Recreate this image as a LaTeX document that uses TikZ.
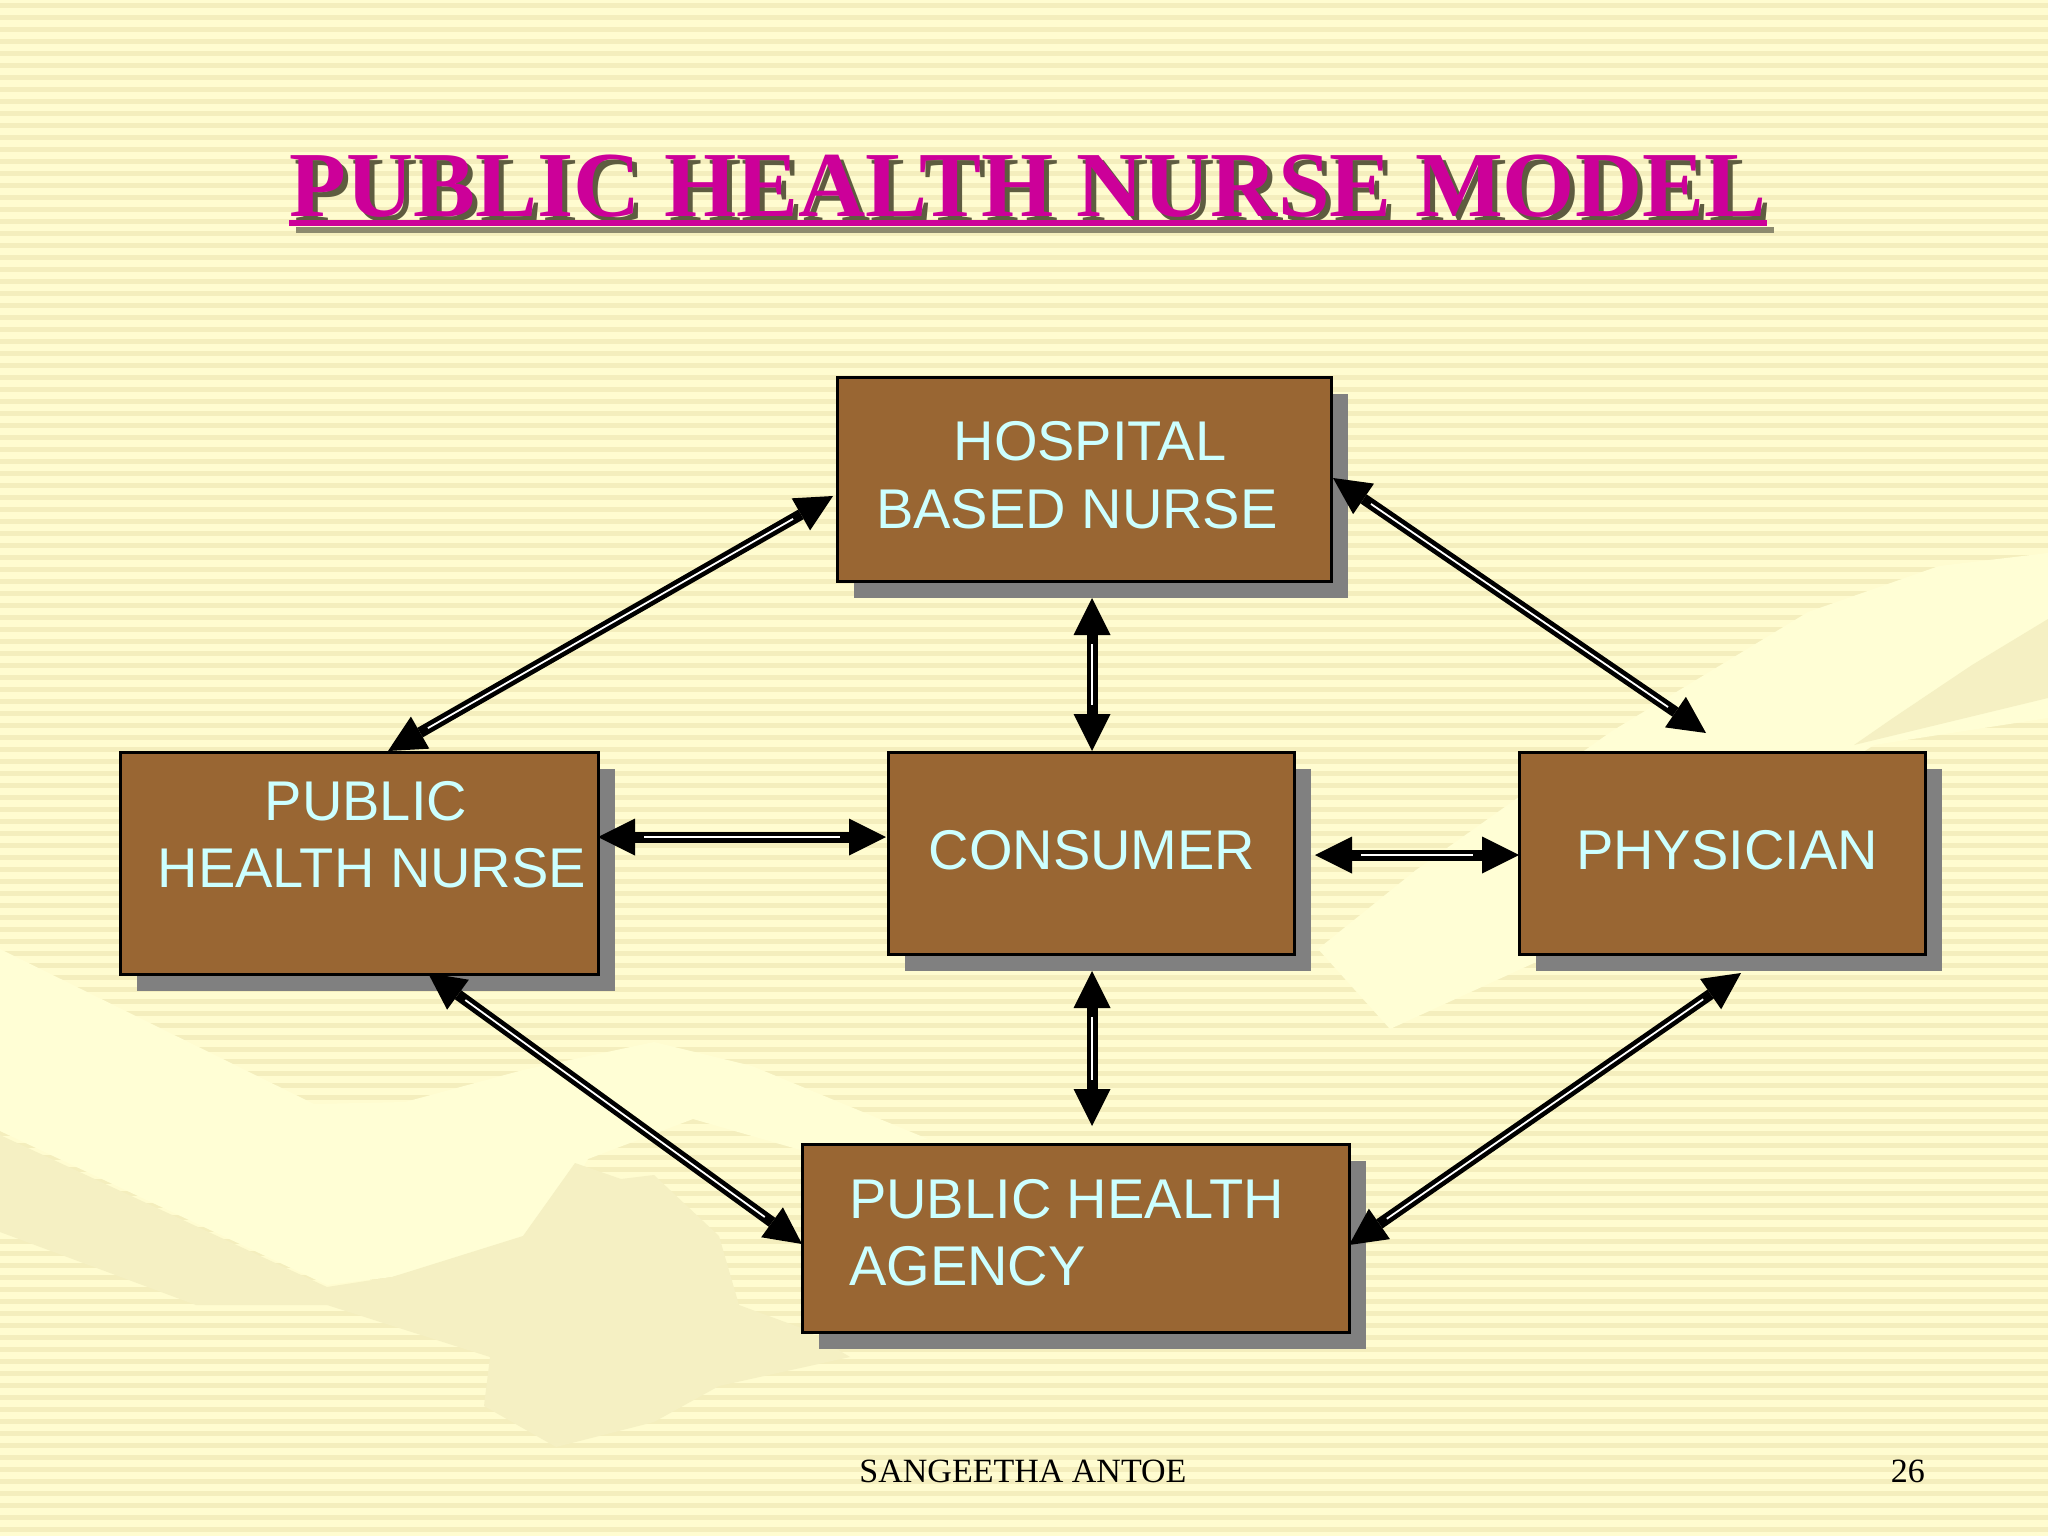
\documentclass[tikz,border=0pt]{standalone}
\usepackage{fontspec}
\setmainfont{Liberation Serif}
\newfontfamily\boxfont{Liberation Sans}
\usetikzlibrary{arrows.meta,shadows,calc}
\definecolor{bgcol}{HTML}{FFFCD0}
\definecolor{stripecol}{HTML}{F4EEBD}
\definecolor{handlight}{HTML}{FFFED5}
\definecolor{handdark}{HTML}{F5F0C3}
\definecolor{boxbrown}{HTML}{996633}
\definecolor{boxtext}{HTML}{CCFFFF}
\definecolor{shadowgray}{HTML}{808080}
\definecolor{titlemag}{HTML}{CC0099}
\definecolor{titleshadow}{HTML}{5E5C40}
\definecolor{ulshadow}{HTML}{8C8A6E}
\tikzset{
  boxnode/.style={draw=black, line width=2.5pt, fill=boxbrown, inner sep=0pt, anchor=north west,
    drop shadow={shadow xshift=17pt, shadow yshift=-17pt, fill=shadowgray, opacity=1}},
  boxlabel/.style={text=boxtext, inner sep=0pt, font=\boxfont\fontsize{56}{67}\selectfont},
  biarrow/.style={line width=11pt, draw=black,
    {Triangle[length=37pt,width=37pt,line width=0pt]}-{Triangle[length=37pt,width=37pt,line width=0pt]}},
  glint/.style={line width=1.8pt, draw=white, shorten <=46pt, shorten >=46pt},
  titlefont/.style={inner sep=0pt, font=\bfseries\fontsize{93}{110}\selectfont},
}
\begin{document}
\begin{tikzpicture}[x=1pt,y=-1pt]
\useasboundingbox (0,0) rectangle (2048,1536);
% background
\fill[bgcol] (0,0) rectangle (2048,1536);
\foreach \i in {0,...,127} \fill[stripecol] (0,{\i*12+3}) rectangle (2048,{\i*12+8});
% faint handshake watermark
\fill[handlight] (0,949) -- (314,1104) -- (405,1102) -- (523,1070) -- (654,1042) -- (752,1066)
  -- (928,1139) -- (804,1151) -- (693,1119) -- (588,1159) -- (542,1236) -- (392,1277)
  -- (327,1285) -- (0,1131) -- cycle;
\fill[handdark] (0,1135) -- (327,1287) -- (392,1277) -- (523,1236) -- (575,1163) -- (621,1179)
  -- (654,1175) -- (719,1236) -- (739,1305) -- (804,1329) -- (850,1357) -- (719,1386)
  -- (654,1422) -- (556,1447) -- (484,1406) -- (490,1357) -- (327,1305) -- (196,1305)
  -- (0,1232) -- cycle;
\fill[handlight] (2048,553) -- (2048,718) -- (1874,745) -- (1678,870) -- (1534,963)
  -- (1390,1029) -- (1318,949) -- (1416,870) -- (1612,731) -- (1808,612) -- (1939,566) -- cycle;
\fill[handdark] (2048,619) -- (2048,698) -- (1854,745) -- (1893,718) -- (1972,665) -- cycle;
% title
\node[titlefont, text=titleshadow, anchor=base] (titlesh) at (1033,221) {PUBLIC HEALTH NURSE MODEL};
\node[titlefont, text=titlemag, anchor=base] (title) at (1028,216) {PUBLIC HEALTH NURSE MODEL};
\draw[ulshadow, line width=6pt] ($(title.base west)+(7,14)$) -- ($(title.base east)+(7,14)$);
\draw[titlemag, line width=6pt] ($(title.base west)+(0,7)$) -- ($(title.base east)+(0,7)$);
% boxes
\node[boxnode, minimum width=494pt, minimum height=204pt] (hosp) at (836,376) {};
\node[boxnode, minimum width=478pt, minimum height=222pt] (phn) at (119,751) {};
\node[boxnode, minimum width=406pt, minimum height=202pt] (cons) at (887,751) {};
\node[boxnode, minimum width=406pt, minimum height=202pt] (phys) at (1518,751) {};
\node[boxnode, minimum width=547pt, minimum height=188pt] (agency) at (801,1143) {};
% box labels
\node[boxlabel, anchor=base] (hospA) at (1090,460) {HOSPITAL};
\node[boxlabel, anchor=base] (hospB) at (1077,528) {BASED NURSE};
\node[boxlabel, anchor=base] (phnA) at (366,820) {PUBLIC};
\node[boxlabel, anchor=base] (phnB) at (372,887) {HEALTH NURSE};
\node[boxlabel, anchor=base] (consA) at (1092,869) {CONSUMER};
\node[boxlabel, anchor=base] (physA) at (1727,869) {PHYSICIAN};
\node[boxlabel, anchor=base west] (agA) at (849,1218) {PUBLIC HEALTH};
\node[boxlabel, anchor=base west] (agB) at (849,1285) {AGENCY};
% arrow end points
\coordinate (a1s) at (833,496);  \coordinate (a1e) at (388,751);
\coordinate (a2s) at (1333,478); \coordinate (a2e) at (1706,733);
\coordinate (a3s) at (1092,598); \coordinate (a3e) at (1092,751);
\coordinate (a4s) at (598,837);  \coordinate (a4e) at (886,837);
\coordinate (a5s) at (1315,855); \coordinate (a5e) at (1519,855);
\coordinate (a6s) at (1092,971); \coordinate (a6e) at (1092,1126);
\coordinate (a7s) at (428,973);  \coordinate (a7e) at (802,1244);
\coordinate (a8s) at (1349,1245);\coordinate (a8e) at (1741,973);
\foreach \a in {a1,a2,a3,a4,a5,a6,a7,a8}{
  \draw[biarrow] (\a s) -- (\a e);
  \draw[glint] (\a s) -- (\a e);
}
% footer
\node[inner sep=0pt, anchor=base, font=\fontsize{34}{40}\selectfont] (footer) at (1023,1482) {SANGEETHA ANTOE};
\node[inner sep=0pt, anchor=base east, font=\fontsize{34}{40}\selectfont] (pagenum) at (1925,1482) {26};
\end{tikzpicture}
\end{document}
